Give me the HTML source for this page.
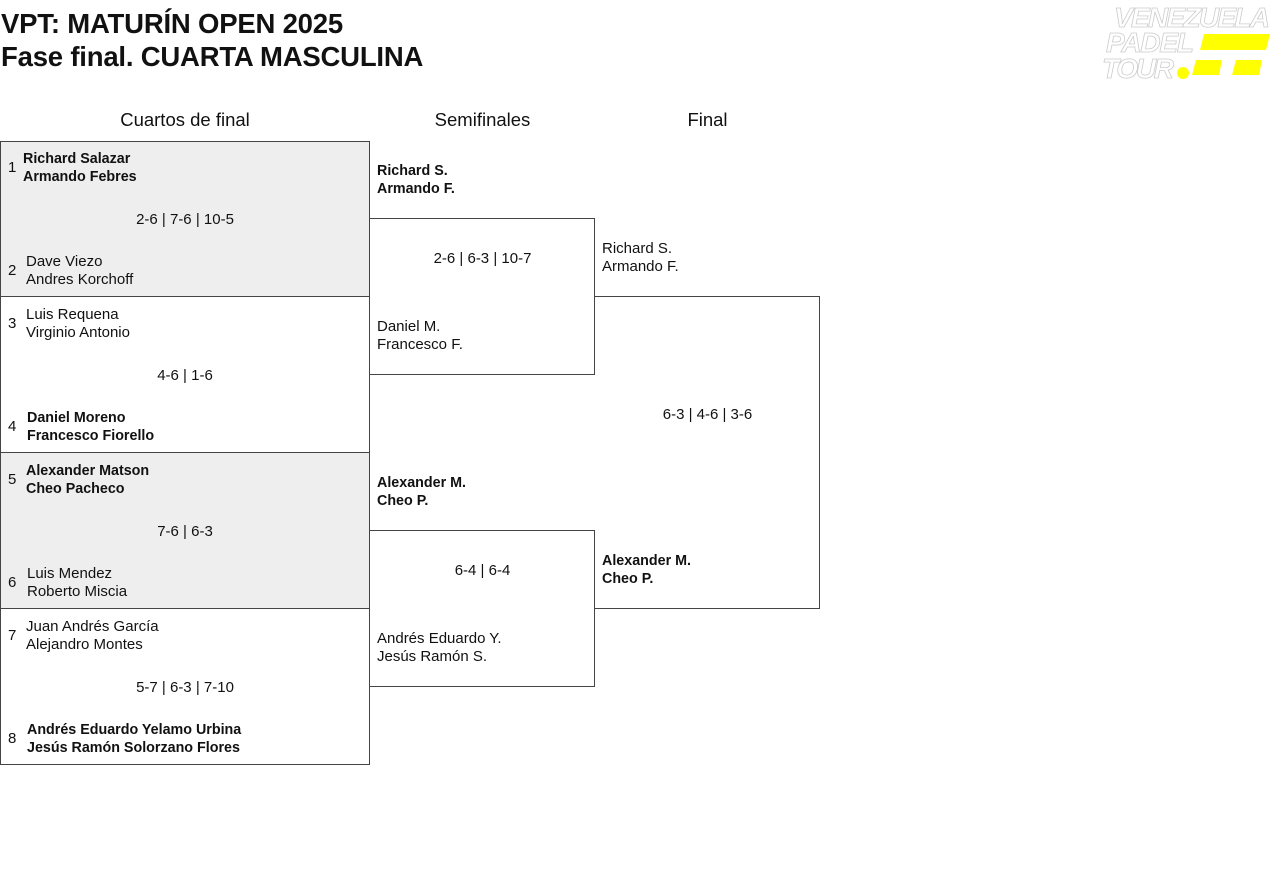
<!DOCTYPE html>
<html><head><meta charset="utf-8"><style>
body{margin:0;width:1280px;height:883px;background:#fff;font-family:"Liberation Sans",sans-serif;color:#111;position:relative;overflow:hidden}
.a{position:absolute;white-space:nowrap}
.t{font-size:27.5px;font-weight:bold;letter-spacing:-0.2px}
.h{font-size:18.5px;text-align:center;font-weight:500}
.b{position:absolute;border:1px solid #444;box-sizing:border-box}
.g{background:#eee}
.n{font-size:15px;line-height:18px;margin-top:1px}
.w{font-weight:bold;font-size:14.3px}
.s{font-size:15px;text-align:center;margin-top:1px}
</style></head><body>
<div class="a t" style="left:1px;top:8px">VPT: MATURÍN OPEN 2025</div>
<div class="a t" style="left:1px;top:41px">Fase final. CUARTA MASCULINA</div>
<svg class="a" style="left:1100px;top:2px" width="175" height="80">
<text x="14" y="25" font-size="28" font-style="italic" font-weight="bold" fill="#fff" stroke="#ccc" stroke-width="0.8" font-family="Liberation Sans" textLength="156">VENEZUELA</text>
<text x="6" y="50" font-size="28" font-style="italic" font-weight="bold" fill="#fff" stroke="#ccc" stroke-width="0.8" font-family="Liberation Sans" textLength="88">PADEL</text>
<text x="2" y="76" font-size="28" font-style="italic" font-weight="bold" fill="#fff" stroke="#ccc" stroke-width="0.8" font-family="Liberation Sans" textLength="72">TOUR</text>
<polygon points="104,32 170,32 166,48 100,48" fill="#ff0"/>
<circle cx="83" cy="71" r="6" fill="#ff0"/>
<polygon points="96,58 122,58 119,73 92,73" fill="#ff0"/>
<polygon points="136,58 162,58 159,73 132,73" fill="#ff0"/>
</svg>
<div class="a h" style="left:0;width:370px;top:109px">Cuartos de final</div>
<div class="a h" style="left:370px;width:225px;top:109px">Semifinales</div>
<div class="a h" style="left:595px;width:225px;top:109px">Final</div>

<div class="b g" style="left:0;top:141px;width:370px;height:156px"></div>
<div class="b" style="left:0;top:296px;width:370px;height:157px"></div>
<div class="b g" style="left:0;top:452px;width:370px;height:157px"></div>
<div class="b" style="left:0;top:608px;width:370px;height:157px"></div>
<div class="b" style="left:369px;top:218px;width:226px;height:157px"></div>
<div class="b" style="left:369px;top:530px;width:226px;height:157px"></div>
<div class="b" style="left:594px;top:296px;width:226px;height:313px;border-left:none"></div>

<div class="a n" style="left:8px;top:158px">1</div>
<div class="a n w" style="left:23px;top:149px">Richard Salazar<br>Armando Febres</div>
<div class="a s" style="left:0;width:370px;top:210px">2-6 | 7-6 | 10-5</div>
<div class="a n" style="left:8px;top:261px">2</div>
<div class="a n" style="left:26px;top:252px">Dave Viezo<br>Andres Korchoff</div>

<div class="a n" style="left:8px;top:314px">3</div>
<div class="a n" style="left:26px;top:305px">Luis Requena<br>Virginio Antonio</div>
<div class="a s" style="left:0;width:370px;top:366px">4-6 | 1-6</div>
<div class="a n" style="left:8px;top:417px">4</div>
<div class="a n w" style="left:27px;top:408px">Daniel Moreno<br>Francesco Fiorello</div>

<div class="a n" style="left:8px;top:470px">5</div>
<div class="a n w" style="left:26px;top:461px">Alexander Matson<br>Cheo Pacheco</div>
<div class="a s" style="left:0;width:370px;top:522px">7-6 | 6-3</div>
<div class="a n" style="left:8px;top:573px">6</div>
<div class="a n" style="left:27px;top:564px">Luis Mendez<br>Roberto Miscia</div>

<div class="a n" style="left:8px;top:626px">7</div>
<div class="a n" style="left:26px;top:617px">Juan Andrés García<br>Alejandro Montes</div>
<div class="a s" style="left:0;width:370px;top:678px">5-7 | 6-3 | 7-10</div>
<div class="a n" style="left:8px;top:729px">8</div>
<div class="a n w" style="left:27px;top:720px">Andrés Eduardo Yelamo Urbina<br>Jesús Ramón Solorzano Flores</div>

<div class="a n w" style="left:377px;top:161px">Richard S.<br>Armando F.</div>
<div class="a s" style="left:370px;width:225px;top:249px">2-6 | 6-3 | 10-7</div>
<div class="a n" style="left:377px;top:317px">Daniel M.<br>Francesco F.</div>
<div class="a n w" style="left:377px;top:473px">Alexander M.<br>Cheo P.</div>
<div class="a s" style="left:370px;width:225px;top:561px">6-4 | 6-4</div>
<div class="a n" style="left:377px;top:629px">Andrés Eduardo Y.<br>Jesús Ramón S.</div>

<div class="a n" style="left:602px;top:239px">Richard S.<br>Armando F.</div>
<div class="a s" style="left:595px;width:225px;top:405px">6-3 | 4-6 | 3-6</div>
<div class="a n w" style="left:602px;top:551px">Alexander M.<br>Cheo P.</div>
</body></html>
